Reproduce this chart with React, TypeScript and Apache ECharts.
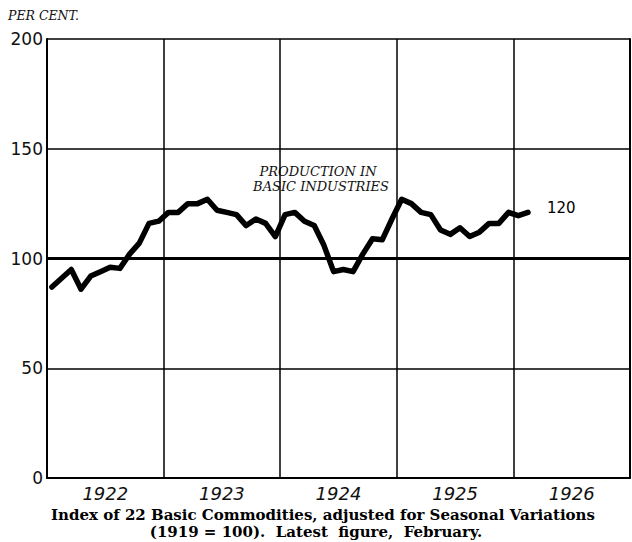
import React, { useEffect, useRef } from "react";
import * as echarts from "echarts";

const years = ["1922", "1923", "1924", "1925", "1926"];
const yTicks = [0, 50, 100, 150, 200];
// Monthly index, Jan 1922 – Feb 1926
const production = [
  87, 91, 95, 86, 92, 94, 96, 95.5, 102, 107, 116, 117,
  121, 121, 125, 125, 127, 122, 121, 120, 115, 118, 116, 110,
  120, 121, 117, 115, 106, 94, 95, 94, 102, 109, 108.5, 118,
  127, 125, 121, 120, 113, 111, 114, 110, 112, 116, 116, 121,
  119.5, 121,
];
const latestLabel = "120";
const seriesTitle = ["PRODUCTION IN", "BASIC INDUSTRIES"];
const caption1 = "Index of 22 Basic Commodities, adjusted for Seasonal Variations";
const caption2 = "(1919 = 100).  Latest  figure,  February.";

export default function App() {
  const ref = useRef<HTMLDivElement>(null);
  useEffect(() => {
    if (!ref.current) return;
    const chart = echarts.init(ref.current, null, { renderer: "svg" });
    const pts = production.map((v, i) => [i + 0.5, v]);
    const last = pts[pts.length - 1];
    chart.setOption({
      animation: false,
      backgroundColor: "#ffffff",
      grid: { left: 47, top: 39, right: 2, bottom: 64, containLabel: false },
      xAxis: [
        { type: "value", min: 0, max: years.length * 12, show: false },
        {
          type: "category",
          data: years,
          boundaryGap: true,
          position: "bottom",
          axisLine: { show: true, lineStyle: { color: "#000", width: 2 } },
          axisTick: { show: false },
          splitLine: { show: true, lineStyle: { color: "#000", width: 1.5 } },
          axisLabel: {
            color: "#111",
            fontSize: 18,
            fontStyle: "italic",
            fontFamily: "DejaVu Sans",
            fontWeight: 300,
            margin: 6,
          },
        },
      ],
      yAxis: [
        {
          type: "value",
          min: 0,
          max: 200,
          interval: 50,
          axisLine: { show: true, lineStyle: { color: "#000", width: 2 } },
          axisTick: { show: false },
          splitLine: { show: true, lineStyle: { color: "#000", width: 1.5 } },
          axisLabel: {
            color: "#111",
            fontSize: 17,
            fontFamily: "DejaVu Sans",
            margin: 4,
            formatter: (v: number) => (yTicks.includes(v) ? String(v) : ""),
          },
        },
        {
          type: "value",
          min: 0,
          max: 200,
          interval: 50,
          position: "right",
          axisLine: { show: true, lineStyle: { color: "#000", width: 2 } },
          axisTick: { show: false },
          axisLabel: { show: false },
          splitLine: { show: false },
        },
      ],
      series: [
        {
          type: "line",
          xAxisIndex: 0,
          yAxisIndex: 0,
          data: pts,
          symbol: "none",
          lineStyle: { color: "#000", width: 5.5, join: "round", cap: "round" },
          markLine: {
            silent: true,
            symbol: "none",
            label: { show: false },
            lineStyle: { color: "#000", width: 3, type: "solid" },
            data: [{ yAxis: 100 }],
          },
          markPoint: {
            symbol: "circle",
            symbolSize: 0,
            data: [
              {
                coord: last,
                label: {
                  show: true,
                  formatter: latestLabel,
                  position: "right",
                  offset: [14, -4],
                  color: "#000",
                  fontSize: 15,
                  fontFamily: "DejaVu Sans",
                },
              },
            ],
          },
        },
      ],
      graphic: [
        {
          type: "text",
          left: 8,
          top: 9,
          style: {
            text: "PER CENT.",
            fontSize: 12.5,
            fontStyle: "italic",
            fontFamily: "DejaVu Serif",
            fill: "#111",
          },
        },
        {
          type: "text",
          x: 318,
          y: 171,
          style: {
            text: seriesTitle[0],
            fontSize: 13,
            fontStyle: "italic",
            fontFamily: "DejaVu Serif",
            fill: "#111",
            align: "center",
            verticalAlign: "middle",
          },
        },
        {
          type: "text",
          x: 321,
          y: 186,
          style: {
            text: seriesTitle[1],
            fontSize: 13,
            fontStyle: "italic",
            fontFamily: "DejaVu Serif",
            fill: "#111",
            align: "center",
            verticalAlign: "middle",
          },
        },
        {
          type: "text",
          x: 323,
          y: 515,
          style: {
            text: caption1,
            fontSize: 15,
            fontWeight: "bold",
            fontFamily: "DejaVu Serif",
            fill: "#000",
            align: "center",
            verticalAlign: "middle",
          },
        },
        {
          type: "text",
          x: 316,
          y: 532,
          style: {
            text: caption2,
            fontSize: 15,
            fontWeight: "bold",
            fontFamily: "DejaVu Serif",
            fill: "#000",
            align: "center",
            verticalAlign: "middle",
          },
        },
      ],
    });
    return () => chart.dispose();
  }, []);
  return (
    <div
      ref={ref}
      style={{ position: "fixed", left: 0, top: 0, width: 632, height: 542 }}
    />
  );
}
